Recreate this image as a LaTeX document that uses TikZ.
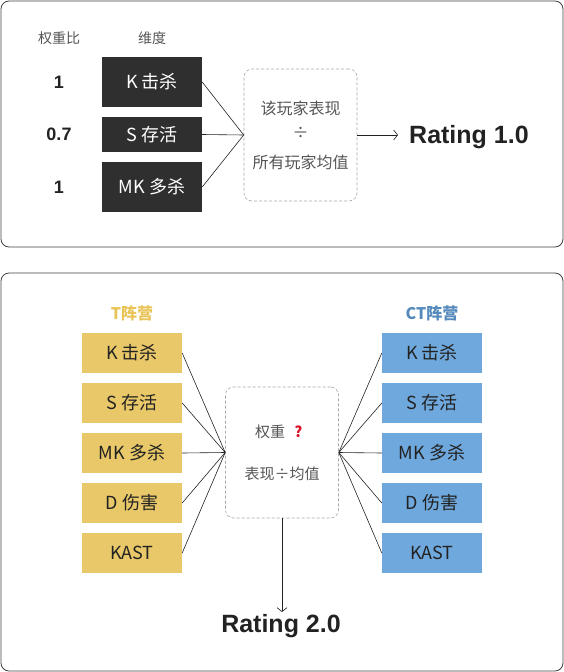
\documentclass[tikz,border=0pt]{standalone}
\usepackage{fontspec}
\setmainfont{Noto Sans CJK SC}
\newfontfamily\ratingfont{Liberation Sans}
\usetikzlibrary{positioning, arrows.meta}
\definecolor{dimbox}{RGB}{47,47,47}
\definecolor{tside}{RGB}{232,200,104}
\definecolor{ctside}{RGB}{111,168,220}
\definecolor{ttext}{RGB}{233,196,88}
\definecolor{cttext}{RGB}{86,138,188}
\definecolor{frame}{RGB}{64,64,64}
\definecolor{ink}{RGB}{34,34,34}
\definecolor{soft}{RGB}{85,85,85}
\definecolor{qmark}{RGB}{218,20,40}

\begin{document}
\begin{tikzpicture}[x=1pt, y=-1pt,
  panel/.style={draw=frame, line width=0.8pt, rounded corners=8pt},
  dim/.style={fill=dimbox, text=white, minimum width=100pt, inner sep=0pt, font=\fontsize{18}{21}\selectfont},
  tbox/.style={fill=tside, text=ink, minimum width=100pt, minimum height=40pt, inner sep=0pt, font=\fontsize{18}{21}\selectfont},
  ctbox/.style={fill=ctside, text=ink, minimum width=100pt, minimum height=40pt, inner sep=0pt, font=\fontsize{18}{21}\selectfont},
  gap/.style={draw=gray!70, densely dashed, line width=0.6pt, rounded corners=8pt, minimum width=113pt},
  wt/.style={text=ink, font=\ratingfont\bfseries\fontsize{18}{21}\selectfont},
  head/.style={text=soft, font=\fontsize{14}{16}\selectfont},
  note/.style={text=soft, inner sep=0pt},
  rating/.style={text=ink, font=\ratingfont\bfseries\fontsize{25}{30}\selectfont},
  ln/.style={draw=ink, line width=0.6pt},
  ar/.style={-{Straight Barb[length=4pt, width=10pt]}, draw=ink, line width=0.6pt}]

\useasboundingbox (0,0) rectangle (564,672);

% panels
\draw[panel] (1,1) rectangle (563,247);
\draw[panel] (1,273) rectangle (563,671);

% Rating 1.0
\node[head] at (59,38) (hw) {权重比};
\node[head] at (152,38) (hd) {维度};

\node[dim, minimum height=50pt] at (152,82) (k1) {K 击杀};
\node[dim, minimum height=35pt] at (152,134.5) (s1) {S 存活};
\node[dim, minimum height=50pt] at (152,187) (mk1) {MK 多杀};

\node[wt] at (59,82) (wk) {1};
\node[wt] at (59,134) (ws) {0.7};
\node[wt] at (59,187) (wmk) {1};

\node[gap, minimum height=132pt] at (300.5,135) (avg1) {};
\node[note, font=\fontsize{16}{18}\selectfont] at (300.5,108) (own) {该玩家表现};
\node[note, font=\fontsize{16}{18}\selectfont] at (300.5,133) (div) {÷};
\node[note, font=\fontsize{16}{18}\selectfont] at (300.5,162) (all) {所有玩家均值};

\node[rating, anchor=west, inner xsep=11pt] at (398,137) (r1) {Rating 1.0};

\draw[ln] (k1.east) -- (avg1.west);
\draw[ln] (s1.east) -- (avg1.west);
\draw[ln] (mk1.east) -- (avg1.west);
\draw[ar] (avg1.east) -- (avg1.east -| r1.west);

% Rating 2.0
\node[text=ttext, font=\bfseries\fontsize{16}{18}\selectfont] at (132,313) (tcamp) {T阵营};
\node[text=cttext, font=\bfseries\fontsize{16}{18}\selectfont] at (432,313) (ctcamp) {CT阵营};

\node[tbox] at (132,353) (tk) {K 击杀};
\node[tbox] at (132,403) (ts) {S 存活};
\node[tbox] at (132,453) (tmk) {MK 多杀};
\node[tbox] at (132,503) (td) {D 伤害};
\node[tbox] at (132,553) (tkast) {KAST};

\node[ctbox] at (432,353) (ck) {K 击杀};
\node[ctbox] at (432,403) (cs) {S 存活};
\node[ctbox] at (432,453) (cmk) {MK 多杀};
\node[ctbox] at (432,503) (cd) {D 伤害};
\node[ctbox] at (432,553) (ckast) {KAST};

\node[gap, minimum height=131pt] at (282,452.5) (avg2) {};
\node[note, font=\fontsize{15}{18}\selectfont] at (270,432) (wq) {权重};
\node[note, text=qmark, font=\bfseries\fontsize{15}{18}\selectfont] at (298.5,432) (q) {?};
\node[note, font=\fontsize{15}{18}\selectfont] at (282,474) (ratio) {表现÷均值};

\node[rating, anchor=north, inner sep=2pt] at (281,612) (r2) {Rating 2.0};

\draw[ln] (tk.east) -- (avg2.west);
\draw[ln] (ts.east) -- (avg2.west);
\draw[ln] (tmk.east) -- (avg2.west);
\draw[ln] (td.east) -- (avg2.west);
\draw[ln] (tkast.east) -- (avg2.west);
\draw[ln] (ck.west) -- (avg2.east);
\draw[ln] (cs.west) -- (avg2.east);
\draw[ln] (cmk.west) -- (avg2.east);
\draw[ln] (cd.west) -- (avg2.east);
\draw[ln] (ckast.west) -- (avg2.east);
\draw[ar] (avg2.south) -- (avg2.south |- r2.north);
\end{tikzpicture}
\end{document}
